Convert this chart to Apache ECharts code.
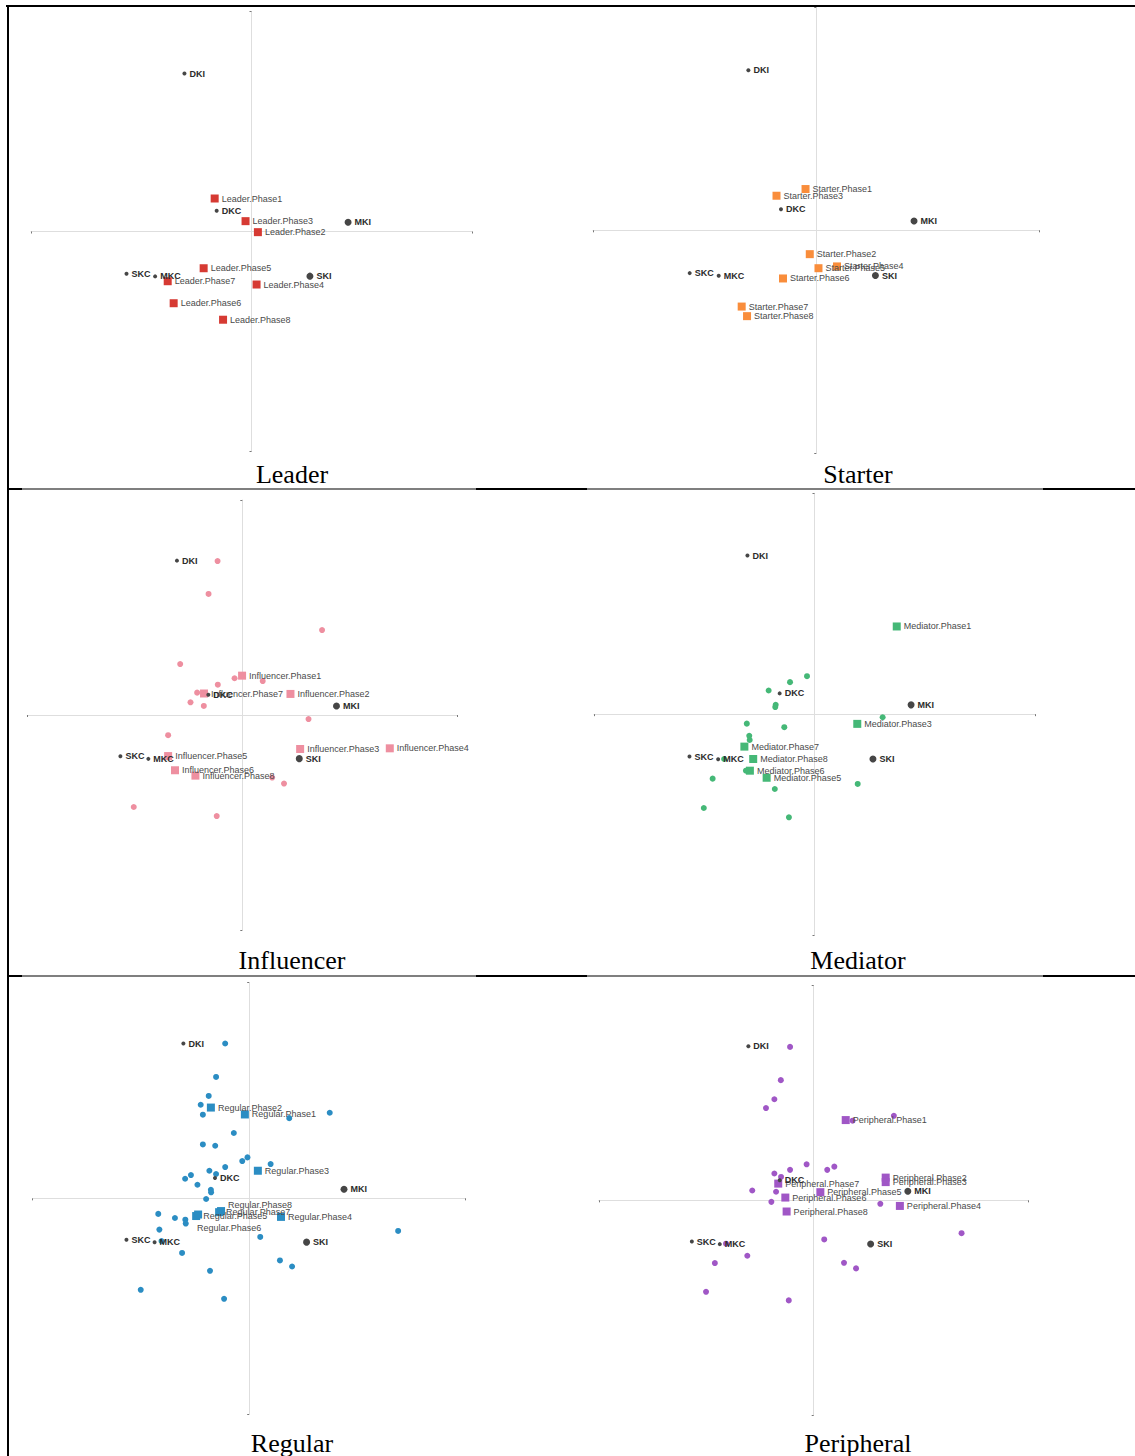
<!DOCTYPE html>
<html>
<head>
<meta charset="utf-8">
<title>Roles by phase</title>
<script src="https://cdn.jsdelivr.net/npm/echarts@6/dist/echarts.min.js"></script>
<style>
  html, body { margin: 0; padding: 0; background: #fff; }
  #chart { width: 1135px; height: 1456px; }
</style>
</head>
<body>
<div id="chart"></div>
<script>
// ---- data (map coordinates, both dimensions on [-1, 1]) ----
const PHASES = ['Phase1', 'Phase2', 'Phase3', 'Phase4', 'Phase5', 'Phase6', 'Phase7', 'Phase8'];

// supplementary categories, shown in every panel
const SUPP_NAMES = ['DKI', 'DKC', 'MKI', 'SKC', 'MKC', 'SKI'];
const SUPP_X = [-0.304, -0.158, 0.438, -0.567, -0.437, 0.265];
const SUPP_Y = [0.718, 0.094, 0.042, -0.192, -0.204, -0.203];

// role x phase profiles
const LEADER_X = [-0.167, 0.029, -0.027, 0.023, -0.217, -0.353, -0.380, -0.129];
const LEADER_Y = [0.150, -0.003, 0.047, -0.241, -0.167, -0.326, -0.226, -0.401];

const STARTER_X = [-0.048, -0.029, -0.178, 0.093, 0.010, -0.149, -0.334, -0.310];
const STARTER_Y = [0.185, -0.107, 0.155, -0.162, -0.170, -0.216, -0.342, -0.385];

const INFLUENCER_X = [-0.001, 0.224, 0.269, 0.686, -0.345, -0.313, -0.178, -0.218];
const INFLUENCER_Y = [0.183, 0.098, -0.158, -0.155, -0.191, -0.257, 0.100, -0.282];

const MEDIATOR_X = [0.373, null, 0.194, null, -0.217, -0.293, -0.318, -0.278];
const MEDIATOR_Y = [0.397, null, -0.044, null, -0.288, -0.256, -0.147, -0.203];

const REGULAR_X = [-0.020, -0.177, 0.040, 0.147, -0.245, -0.236, -0.139, -0.130];
const REGULAR_Y = [0.389, 0.421, 0.128, -0.086, -0.082, -0.075, -0.064, -0.059];

const PERIPHERAL_X = [0.149, 0.335, 0.335, 0.401, 0.031, -0.132, -0.165, -0.126];
const PERIPHERAL_Y = [0.374, 0.106, 0.085, -0.026, 0.038, 0.013, 0.078, -0.052];

// individual members holding each role
const INFLUENCER_IND_X = [-0.115, -0.157, 0.371, -0.289, -0.036, 0.095, -0.114, -0.210, -0.241, -0.179, 0.308, -0.345, 0.139, 0.194, -0.505, -0.119];
const INFLUENCER_IND_Y = [0.716, 0.563, 0.395, 0.237, 0.171, 0.158, 0.141, 0.104, 0.059, 0.042, -0.019, -0.094, -0.291, -0.319, -0.428, -0.470];

const MEDIATOR_IND_X = [-0.034, -0.111, -0.208, -0.176, -0.178, 0.309, -0.307, -0.137, -0.296, -0.294, -0.410, -0.311, -0.462, 0.196, -0.180, -0.502, -0.116];
const MEDIATOR_IND_Y = [0.172, 0.145, 0.107, 0.042, 0.032, -0.014, -0.043, -0.059, -0.098, -0.117, -0.203, -0.256, -0.292, -0.316, -0.339, -0.425, -0.467];

const REGULAR_IND_X = [-0.111, -0.153, -0.187, -0.224, -0.214, 0.372, 0.185, -0.071, -0.214, -0.157, -0.008, -0.032, 0.099, -0.111, -0.184, -0.153, -0.269, -0.296, -0.239, -0.177, -0.176, -0.199, -0.420, -0.343, -0.295, -0.293, -0.415, 0.688, 0.051, -0.405, -0.310, 0.142, 0.198, -0.181, -0.501, -0.116];
const REGULAR_IND_Y = [0.718, 0.563, 0.475, 0.434, 0.388, 0.397, 0.372, 0.303, 0.250, 0.244, 0.190, 0.173, 0.159, 0.145, 0.128, 0.113, 0.108, 0.091, 0.063, 0.040, 0.028, -0.003, -0.072, -0.091, -0.099, -0.117, -0.145, -0.151, -0.179, -0.198, -0.253, -0.288, -0.316, -0.336, -0.424, -0.466];

const PERIPHERAL_IND_X = [-0.110, -0.153, -0.183, -0.222, 0.373, 0.181, -0.033, 0.096, 0.063, -0.110, -0.183, -0.152, -0.286, -0.175, -0.197, 0.310, 0.688, 0.049, -0.408, -0.309, -0.460, 0.141, 0.197, -0.501, -0.116];
const PERIPHERAL_IND_Y = [0.715, 0.560, 0.471, 0.430, 0.394, 0.371, 0.168, 0.157, 0.142, 0.142, 0.125, 0.109, 0.046, 0.040, -0.007, -0.016, -0.153, -0.182, -0.202, -0.258, -0.292, -0.291, -0.317, -0.426, -0.466];

// ---- appearance ----
const SANS = '"Liberation Sans", Arial, sans-serif';
const SERIF = '"Liberation Serif", "Times New Roman", serif';
const SUPP_COLOR = '#464646';
const SUPP_BIG = ['MKI', 'SKI'];
// hand placement (dx, dy in px) for labels that would sit on top of each other
const LABEL_NUDGE = { 'Regular.Phase6': [-8, 13], 'Regular.Phase8': [0, -6] };

const PANELS = [
  { title: 'Leader', color: '#d63a33', px: LEADER_X, py: LEADER_Y, ix: null, iy: null,
    grid: { left: 31, top: 11.5, width: 441, height: 440 }, cap: [292, 474] },
  { title: 'Starter', color: '#f98d3b', px: STARTER_X, py: STARTER_Y, ix: null, iy: null,
    grid: { left: 593, top: 7.3, width: 446.5, height: 446 }, cap: [858, 474] },
  { title: 'Influencer', color: '#ee8fa0', px: INFLUENCER_X, py: INFLUENCER_Y, ix: INFLUENCER_IND_X, iy: INFLUENCER_IND_Y,
    grid: { left: 27.3, top: 500, width: 430, height: 430 }, cap: [292, 960] },
  { title: 'Mediator', color: '#45b877', px: MEDIATOR_X, py: MEDIATOR_Y, ix: MEDIATOR_IND_X, iy: MEDIATOR_IND_Y,
    grid: { left: 594, top: 493.3, width: 441, height: 441.7 }, cap: [858, 960] },
  { title: 'Regular', color: '#2b8dc3', px: REGULAR_X, py: REGULAR_Y, ix: REGULAR_IND_X, iy: REGULAR_IND_Y,
    grid: { left: 32.7, top: 982.7, width: 433, height: 431.3 }, cap: [292, 1443] },
  { title: 'Peripheral', color: '#a057c6', px: PERIPHERAL_X, py: PERIPHERAL_Y, ix: PERIPHERAL_IND_X, iy: PERIPHERAL_IND_Y,
    grid: { left: 598.8, top: 985.7, width: 429.8, height: 429.3 }, cap: [858, 1443] }
];

function axis(i) {
  return {
    gridIndex: i, type: 'value', min: -1, max: 1, interval: 1,
    axisLine: { show: true, onZero: true, lineStyle: { color: '#dedede', width: 1 } },
    axisTick: { show: true, customValues: [-1, 1], length: 2, lineStyle: { color: '#777', width: 1 } },
    axisLabel: { show: false },
    splitLine: { show: false }
  };
}

function phaseLabelLayout(prm) {
  const n = LABEL_NUDGE[prm.text];
  return n ? { hideOverlap: false, dx: n[0], dy: n[1] } : { hideOverlap: false };
}

const grids = [], xAxes = [], yAxes = [], series = [], graphics = [];

PANELS.forEach((p, i) => {
  grids.push(Object.assign({ outerBoundsMode: 'none' }, p.grid));
  xAxes.push(axis(i));
  yAxes.push(axis(i));

  if (p.ix) {
    series.push({
      type: 'scatter', xAxisIndex: i, yAxisIndex: i, z: 2, silent: true,
      symbol: 'circle', symbolSize: 6,
      itemStyle: { color: p.color, opacity: 1 },
      data: p.ix.map((x, k) => [x, p.iy[k]])
    });
  }

  const phaseData = [];
  PHASES.forEach((ph, k) => {
    if (p.px[k] === null) return;
    phaseData.push({ name: p.title + '.' + ph, value: [p.px[k], p.py[k]] });
  });
  series.push({
    type: 'scatter', xAxisIndex: i, yAxisIndex: i, z: 3, silent: true,
    symbol: 'rect', symbolSize: 8,
    itemStyle: { color: p.color, opacity: 1 },
    label: { show: true, position: 'right', distance: 3, formatter: '{b}',
             fontFamily: SANS, fontSize: 9, color: '#4a4a4a' },
    labelLayout: phaseLabelLayout,
    data: phaseData
  });

  series.push({
    type: 'scatter', xAxisIndex: i, yAxisIndex: i, z: 4, silent: true,
    symbol: 'circle',
    symbolSize: (v, prm) => (SUPP_BIG.indexOf(prm.name) >= 0 ? 7 : 4),
    itemStyle: { color: SUPP_COLOR, opacity: 1 },
    label: { show: true, position: 'right', distance: 3, formatter: '{b}',
             fontFamily: SANS, fontSize: 9, fontWeight: 'bold', color: '#2b2b2b' },
    labelLayout: { hideOverlap: false },
    data: SUPP_NAMES.map((n, k) => ({ name: n, value: [SUPP_X[k], SUPP_Y[k]] }))
  });

  graphics.push({
    type: 'text', x: p.cap[0], y: p.cap[1], silent: true,
    style: { text: p.title, fontFamily: SERIF, fontSize: 26, fill: '#000',
             align: 'center', verticalAlign: 'middle' }
  });
});

// table rules around the six panels
const RULES = [
  [6, 5, 1129, 2],          // top
  [7, 5, 2, 1451],          // left
  [7, 488, 15, 2], [22, 488.5, 454, 1], [476, 488, 111, 2], [587, 488.5, 456, 1], [1043, 488, 92, 2],
  [7, 975, 15, 2], [22, 975.5, 454, 1], [476, 975, 111, 2], [587, 975.5, 456, 1], [1043, 975, 92, 2]
];
RULES.forEach(r => graphics.push({
  type: 'rect', silent: true, z: 100,
  shape: { x: r[0], y: r[1], width: r[2], height: r[3] },
  style: { fill: '#000' }
}));

const chart = echarts.init(document.getElementById('chart'), null, { renderer: 'svg', width: 1135, height: 1456 });
chart.setOption({
  backgroundColor: '#ffffff',
  animation: false,
  grid: grids,
  xAxis: xAxes,
  yAxis: yAxes,
  series: series,
  graphic: graphics
});
</script>
</body>
</html>
